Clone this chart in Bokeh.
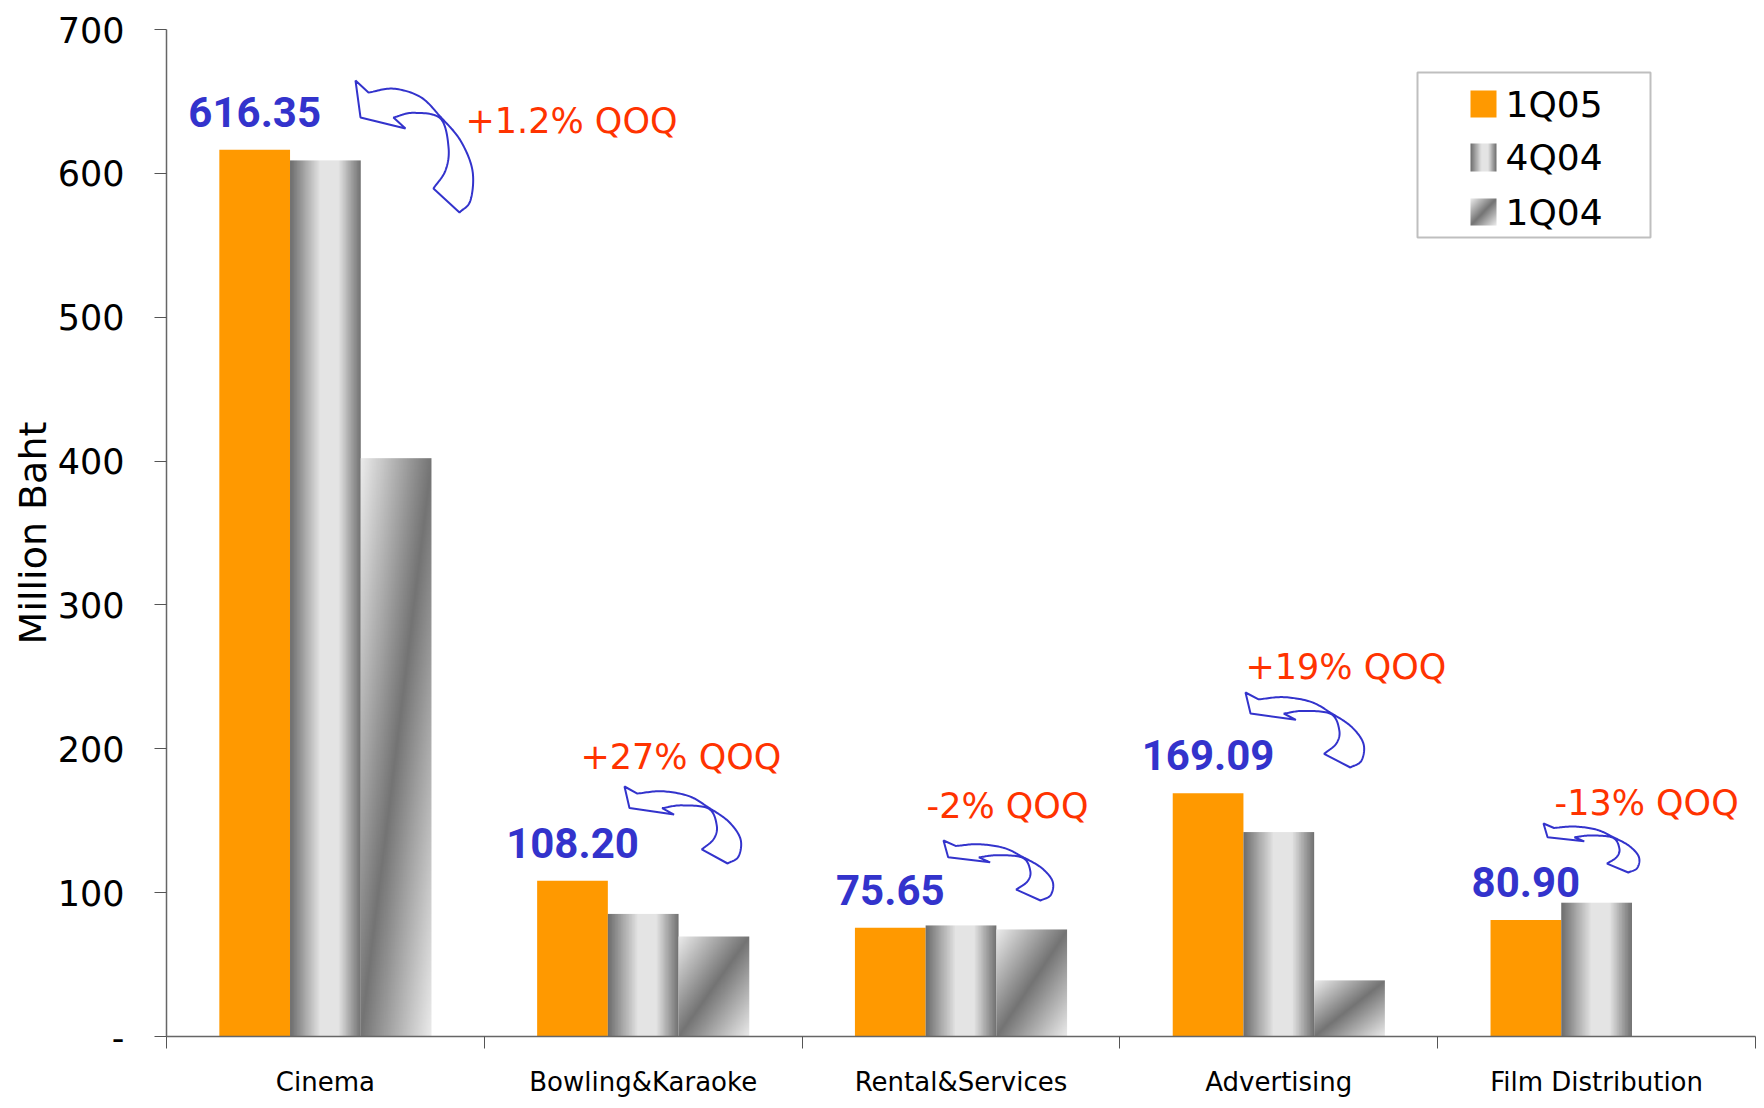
import numpy as np
from bokeh.plotting import figure
from bokeh.models import FixedTicker, Range1d
from bokeh.embed import file_html
from bokeh.resources import INLINE
from bokeh.core.properties import value

# ---------------- data ----------------
categories = ["Cinema", "Bowling&Karaoke", "Rental&Services", "Advertising", "Film Distribution"]
series_names = ["1Q05", "4Q04", "1Q04"]
q1_05 = [616.35, 108.20, 75.65, 169.09, 80.90]
q4_04 = [609.0, 85.2, 77.2, 142.1, 93.0]
q1_04 = [402.0, 69.5, 74.4, 39.0, None]
qoq_labels = ["+1.2% QOQ", "+27% QOQ", "-2% QOQ", "+19% QOQ", "-13% QOQ"]
y_ticks = [0, 100, 200, 300, 400, 500, 600, 700]

# ---------------- figure geometry ----------------
W, H = 1764, 1108
BL, BT, BR, BB = 166, 29, 9, 72
FX0, FX1 = BL, W - BR
FY1, FY0 = BT, H - BB          # frame top / bottom in screen pixels

def dx(px):
    return (px - FX0) / (FX1 - FX0) * len(categories)
def dy(py):
    return (FY0 - py) / (FY0 - FY1) * y_ticks[-1]

# annotation layout (screen pixels)
qoq_pos_px = [(465, 120), (580, 756), (926, 805), (1245, 666), (1554, 802)]
arrow_box_px = [(355, 474, 80, 212), (624, 742, 786, 863), (943, 1054, 840, 900),
                (1245, 1365, 692, 767), (1543, 1640, 823, 872)]

ORANGE = "#FF9900"
BLUE = "#3333CC"
RED = "#FF3300"
FONT = "DejaVu Sans"

p = figure(width=W, height=H, x_range=Range1d(0, 5), y_range=Range1d(0, 700),
           output_backend="svg", toolbar_location=None,
           min_border_left=BL, min_border_right=BR, min_border_top=BT, min_border_bottom=BB)
p.outline_line_color = None
p.grid.visible = False
p.background_fill_color = "white"

# ---------------- axes ----------------
xa = p.xaxis[0]
xa.ticker = FixedTicker(ticks=[i + 0.5 for i in range(len(categories))],
                        minor_ticks=list(range(len(categories) + 1)))
xa.major_label_overrides = {i + 0.5: c for i, c in enumerate(categories)}
xa.major_tick_out = 0
xa.major_tick_in = 0
xa.minor_tick_out = 12
xa.minor_tick_in = 0
xa.minor_tick_line_color = "#555555"
xa.axis_line_color = "#666666"
xa.axis_line_width = 1.5
xa.major_label_standoff = 18
xa.major_label_text_font = FONT
xa.major_label_text_font_size = "26px"
xa.major_label_text_color = "#000000"

ya = p.yaxis[0]
ya.ticker = FixedTicker(ticks=y_ticks, minor_ticks=[])
ya.major_label_overrides = {0: "-"}
ya.major_tick_out = 12
ya.major_tick_in = 0
ya.major_tick_line_color = "#555555"
ya.axis_line_color = "#666666"
ya.axis_line_width = 1.5
ya.major_label_standoff = 30
ya.major_label_text_font = FONT
ya.major_label_text_font_size = "35px"
ya.major_label_text_color = "#000000"
ya.axis_label = "Million Baht"
ya.axis_label_text_font = FONT
ya.axis_label_text_font_size = "38px"
ya.axis_label_text_font_style = "normal"
ya.axis_label_text_color = "#000000"
ya.axis_label_standoff = 0

# ---------------- gradient images ----------------
def gray_rgba(g):
    g = np.clip(g, 0, 255).astype(np.uint8)
    a = np.empty(g.shape + (4,), dtype=np.uint8)
    a[..., 0] = g
    a[..., 1] = g
    a[..., 2] = g
    a[..., 3] = 255
    return a.view(np.uint32).reshape(g.shape)

u = np.linspace(0, 1, 96)
g_h = np.interp(u, [0, 0.42, 0.68, 1], [110, 228, 228, 110])
img_h = gray_rgba(np.tile(g_h, (2, 1)))

n = 160
uu, vb = np.meshgrid(np.linspace(0, 1, n), np.linspace(0, 1, n))
t = (uu + (1 - vb)) / 2
img_d = gray_rgba(116 + (236 - 116) * np.abs(2 * t - 1))

# ---------------- bars ----------------
bw = 0.2225
centers = [i + 0.5 for i in range(len(categories))]
x1 = [c - bw for c in centers]
x2 = centers
x3 = [c + bw for c in centers]

p.vbar(x=x1, top=q1_05, width=bw, bottom=0, fill_color=ORANGE, line_color=None)

p.image_rgba(image=[img_h] * len(q4_04), x=[x - bw / 2 for x in x2], y=[0] * len(q4_04),
             dw=[bw] * len(q4_04), dh=q4_04)

idx3 = [i for i, v in enumerate(q1_04) if v is not None]
p.image_rgba(image=[img_d] * len(idx3), x=[x3[i] - bw / 2 for i in idx3], y=[0] * len(idx3),
             dw=[bw] * len(idx3), dh=[q1_04[i] for i in idx3])

# ---------------- value labels ----------------
p.text(x=x1, y=q1_05, text=[f"{v:.2f}" for v in q1_05], text_align="center",
       text_baseline="alphabetic", y_offset=-38, text_font=value("Roboto"),
       text_font_style="bold", text_font_size="42px", text_color=BLUE)

p.text(x=[dx(a) for a, b in qoq_pos_px], y=[dy(b) for a, b in qoq_pos_px], text=qoq_labels,
       text_align="left", text_baseline="middle", text_font=value(FONT),
       text_font_size="35px", text_color=RED)

# ---------------- curved arrows ----------------
def smooth(pts, n=16):
    pts = np.asarray(pts, float)
    P = np.vstack([2 * pts[0] - pts[1], pts, 2 * pts[-1] - pts[-2]])
    out = []
    for i in range(1, len(P) - 2):
        p0, p1, p2, p3 = P[i - 1], P[i], P[i + 1], P[i + 2]
        for tt in np.linspace(0, 1, n, endpoint=False):
            t2, t3 = tt * tt, tt * tt * tt
            out.append(0.5 * ((2 * p1) + (-p0 + p2) * tt + (2 * p0 - 5 * p1 + 4 * p2 - p3) * t2
                              + (-p0 + 3 * p1 - 3 * p2 + p3) * t3))
    out.append(pts[-1])
    return np.array(out)

OUTER = [(0.109, 0.091), (0.319, 0.062), (0.546, 0.125), (0.714, 0.275), (0.882, 0.455),
         (0.983, 0.682), (0.966, 0.909), (0.874, 1.0)]
INNER = [(0.319, 0.280), (0.487, 0.245), (0.714, 0.288), (0.782, 0.508), (0.756, 0.682),
         (0.655, 0.818)]
outer_s = smooth(OUTER)
inner_s = smooth(INNER)[::-1]
shape = np.vstack([[(0.0, 0.0)], outer_s, inner_s, [(0.42, 0.364), (0.042, 0.28), (0.0, 0.0)]])

axs, ays = [], []
for (l, r, tp, bt) in arrow_box_px:
    px = l + shape[:, 0] * (r - l)
    py = tp + shape[:, 1] * (bt - tp)
    axs.append([dx(v) for v in px])
    ays.append([dy(v) for v in py])
p.patches(xs=axs, ys=ays, fill_color="white", line_color=BLUE, line_width=2)

# ---------------- legend (manual, to show gradient swatches) ----------------
p.quad(left=[dx(1417)], right=[dx(1650)], top=[dy(72)], bottom=[dy(237)],
       fill_color="white", line_color="#BFBFBF", line_width=2)
rows = [(90, 117), (143, 171), (198, 225)]
sl, sr = dx(1470), dx(1496)
p.quad(left=[sl], right=[sr], top=[dy(rows[0][0])], bottom=[dy(rows[0][1])],
       fill_color=ORANGE, line_color=None)
p.image_rgba(image=[img_h], x=[sl], y=[dy(rows[1][1])], dw=[sr - sl],
             dh=[dy(rows[1][0]) - dy(rows[1][1])])
p.image_rgba(image=[img_d], x=[sl], y=[dy(rows[2][1])], dw=[sr - sl],
             dh=[dy(rows[2][0]) - dy(rows[2][1])])
p.text(x=[dx(1505)] * 3, y=[dy((a + b) / 2) for a, b in rows], text=series_names,
       text_align="left", text_baseline="middle", text_font=value(FONT),
       text_font_size="36px", text_color="#000000")

open("out.html", "w").write(file_html(p, INLINE))
